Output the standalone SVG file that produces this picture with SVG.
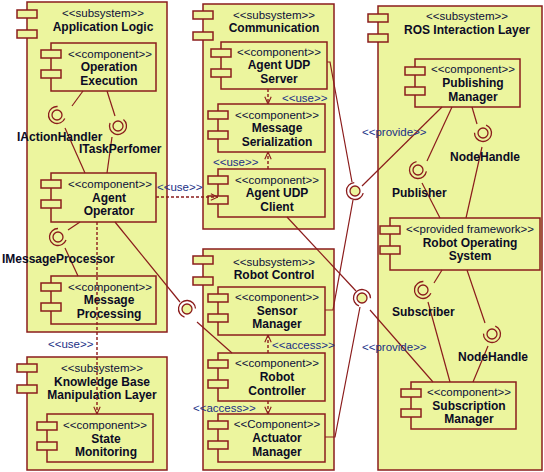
<svg xmlns="http://www.w3.org/2000/svg" width="544" height="472" viewBox="0 0 544 472">
<defs>
<style>
.box{fill:#ecf59e;stroke:#8b1c1c;stroke-width:1.5}
.ln{fill:none;stroke:#8b1c1c;stroke-width:1.2}
.dash{fill:none;stroke:#8b1c1c;stroke-width:1.4;stroke-dasharray:3,2}
.ball{fill:#ecf59e;stroke:#8b1c1c;stroke-width:1.3}
.sock{fill:none;stroke:#8b1c1c;stroke-width:1.3}
.st{font-family:"Liberation Sans",Arial,sans-serif;font-size:11.5px;fill:#0b0f3a;text-anchor:middle}
.nm{font-family:"Liberation Sans",Arial,sans-serif;font-size:12px;font-weight:bold;fill:#0b0b25;text-anchor:middle}
.lb{font-family:"Liberation Sans",Arial,sans-serif;font-size:12px;font-weight:bold;fill:#0b0b25}
.cl{font-family:"Liberation Sans",Arial,sans-serif;font-size:11.5px;fill:#1a2f86}
</style>
<marker id="v" viewBox="0 0 10 10" refX="10" refY="5" markerWidth="8" markerHeight="8" markerUnits="userSpaceOnUse" orient="auto">
<path d="M1,1 L10,5 L1,9" fill="none" stroke="#8b1c1c" stroke-width="1.4"/>
</marker>
</defs>
<rect width="544" height="472" fill="#ffffff"/>

<!-- Subsystems -->
<g id="application-logic">
<rect class="box" x="27" y="2" width="140" height="330"/>
<rect class="box" x="17" y="10" width="20" height="8"/>
<rect class="box" x="17" y="30" width="20" height="8"/>
<text class="st" x="103" y="17">&lt;&lt;subsystem&gt;&gt;</text>
<text class="nm" x="103" y="31">Application Logic</text>
</g>
<g id="knowledge-base">
<rect class="box" x="27" y="357" width="140" height="113"/>
<rect class="box" x="17" y="364" width="20" height="8"/>
<rect class="box" x="17" y="385" width="20" height="8"/>
<text class="st" x="102" y="372">&lt;&lt;subsystem&gt;&gt;</text>
<text class="nm" x="102" y="386">Knowledge Base</text>
<text class="nm" x="102" y="399">Manipulation Layer</text>
</g>
<g id="communication">
<rect class="box" x="203" y="4" width="131" height="225"/>
<rect class="box" x="193" y="11" width="20" height="8"/>
<rect class="box" x="193" y="32" width="20" height="8"/>
<text class="st" x="274" y="19">&lt;&lt;subsystem&gt;&gt;</text>
<text class="nm" x="274" y="32">Communication</text>
</g>
<g id="robot-control">
<rect class="box" x="203" y="249" width="131" height="221"/>
<rect class="box" x="193" y="256" width="20" height="8"/>
<rect class="box" x="193" y="277" width="20" height="8"/>
<text class="st" x="274" y="266">&lt;&lt;subsystem&gt;&gt;</text>
<text class="nm" x="274" y="279">Robot Control</text>
</g>
<g id="ros-interaction-layer">
<rect class="box" x="378" y="6" width="164" height="464"/>
<rect class="box" x="368" y="14" width="20" height="8"/>
<rect class="box" x="368" y="34" width="20" height="8"/>
<text class="st" x="467" y="20">&lt;&lt;subsystem&gt;&gt;</text>
<text class="nm" x="467" y="34">ROS Interaction Layer</text>
</g>

<!-- Components -->
<g id="operation-execution">
<rect class="box" x="51" y="43" width="105" height="48"/>
<rect class="box" x="41" y="50" width="20" height="8"/>
<rect class="box" x="41" y="70" width="20" height="8"/>
<text class="st" x="110" y="58">&lt;&lt;component&gt;&gt;</text>
<text class="nm" x="109" y="71">Operation</text>
<text class="nm" x="109" y="85">Execution</text>
</g>
<g id="agent-operator">
<rect class="box" x="51" y="173" width="105" height="49"/>
<rect class="box" x="41" y="180" width="20" height="8"/>
<rect class="box" x="41" y="200" width="20" height="8"/>
<text class="st" x="110" y="188">&lt;&lt;component&gt;&gt;</text>
<text class="nm" x="109" y="202">Agent</text>
<text class="nm" x="109" y="215">Operator</text>
</g>
<g id="message-processing">
<rect class="box" x="51" y="276" width="105" height="48"/>
<rect class="box" x="41" y="283" width="20" height="8"/>
<rect class="box" x="41" y="303" width="20" height="8"/>
<text class="st" x="110" y="291">&lt;&lt;component&gt;&gt;</text>
<text class="nm" x="109" y="304">Message</text>
<text class="nm" x="109" y="318">Processing</text>
</g>
<g id="state-monitoring">
<rect class="box" x="47" y="414" width="106" height="48"/>
<rect class="box" x="37" y="422" width="20" height="8"/>
<rect class="box" x="37" y="442" width="20" height="8"/>
<text class="st" x="105" y="429">&lt;&lt;component&gt;&gt;</text>
<text class="nm" x="106" y="443">State</text>
<text class="nm" x="106" y="456">Monitoring</text>
</g>
<g id="agent-udp-server">
<rect class="box" x="221" y="42" width="106" height="47"/>
<rect class="box" x="211" y="49" width="20" height="8"/>
<rect class="box" x="211" y="69" width="20" height="8"/>
<text class="st" x="279" y="56">&lt;&lt;component&gt;&gt;</text>
<text class="nm" x="279" y="69">Agent UDP</text>
<text class="nm" x="279" y="83">Server</text>
</g>
<g id="message-serialization">
<rect class="box" x="218" y="104" width="107" height="48"/>
<rect class="box" x="208" y="111" width="20" height="8"/>
<rect class="box" x="208" y="131" width="20" height="8"/>
<text class="st" x="277" y="119">&lt;&lt;component&gt;&gt;</text>
<text class="nm" x="277" y="132">Message</text>
<text class="nm" x="277" y="146">Serialization</text>
</g>
<g id="agent-udp-client">
<rect class="box" x="218" y="169" width="107" height="48"/>
<rect class="box" x="208" y="176" width="20" height="8"/>
<rect class="box" x="208" y="196" width="20" height="8"/>
<text class="st" x="277" y="184">&lt;&lt;component&gt;&gt;</text>
<text class="nm" x="277" y="197">Agent UDP</text>
<text class="nm" x="277" y="211">Client</text>
</g>
<g id="sensor-manager">
<rect class="box" x="218" y="287" width="107" height="48"/>
<rect class="box" x="208" y="294" width="20" height="8"/>
<rect class="box" x="208" y="314" width="20" height="8"/>
<text class="st" x="277" y="301">&lt;&lt;component&gt;&gt;</text>
<text class="nm" x="277" y="315">Sensor</text>
<text class="nm" x="277" y="328">Manager</text>
</g>
<g id="robot-controller">
<rect class="box" x="218" y="353" width="107" height="48"/>
<rect class="box" x="208" y="360" width="20" height="8"/>
<rect class="box" x="208" y="380" width="20" height="8"/>
<text class="st" x="277" y="367">&lt;&lt;component&gt;&gt;</text>
<text class="nm" x="277" y="381">Robot</text>
<text class="nm" x="277" y="395">Controller</text>
</g>
<g id="actuator-manager">
<rect class="box" x="218" y="414" width="107" height="48"/>
<rect class="box" x="208" y="421" width="20" height="8"/>
<rect class="box" x="208" y="441" width="20" height="8"/>
<text class="st" x="277" y="428">&lt;&lt;Component&gt;&gt;</text>
<text class="nm" x="277" y="442">Actuator</text>
<text class="nm" x="277" y="456">Manager</text>
</g>
<g id="publishing-manager">
<rect class="box" x="415" y="59" width="105" height="48"/>
<rect class="box" x="405" y="67" width="20" height="8"/>
<rect class="box" x="405" y="87" width="20" height="8"/>
<text class="st" x="473" y="73">&lt;&lt;component&gt;&gt;</text>
<text class="nm" x="473" y="87">Publishing</text>
<text class="nm" x="473" y="101">Manager</text>
</g>
<g id="robot-operating-system">
<rect class="box" x="390" y="218" width="150" height="52"/>
<rect class="box" x="380" y="226" width="20" height="8"/>
<rect class="box" x="380" y="246" width="20" height="8"/>
<text class="st" x="470" y="233">&lt;&lt;provided framework&gt;&gt;</text>
<text class="nm" x="470" y="247">Robot Operating</text>
<text class="nm" x="470" y="260">System</text>
</g>
<g id="subscription-manager">
<rect class="box" x="411" y="382" width="105" height="47"/>
<rect class="box" x="401" y="389" width="20" height="8"/>
<rect class="box" x="401" y="409" width="20" height="8"/>
<text class="st" x="469" y="396">&lt;&lt;component&gt;&gt;</text>
<text class="nm" x="469" y="410">Subscription</text>
<text class="nm" x="469" y="423">Manager</text>
</g>

<!-- Connectors -->
<g id="connectors">
<path class="ln" d="M83,91 L72,106"/>
<path class="ln" d="M65,128 L85,173"/>
<path class="ln" d="M107,91 L115,116"/>
<path class="ln" d="M112,137 L107,173"/>
<path class="ln" d="M80,222 L68,230"/>
<path class="ln" d="M65,248 L78,276"/>
<path class="ln" d="M115,222 L180,302"/>
<path class="ln" d="M197,322 L232,353"/>
<path class="ln" d="M327,62 L330,62 L352,182"/>
<path class="ln" d="M442,107 L362,186"/>
<path class="ln" d="M353,200 L333,310 L325,310"/>
<path class="ln" d="M287,217 L356,291"/>
<path class="ln" d="M370,310 L433,382"/>
<path class="ln" d="M360,307 L335,437 L325,437"/>
<path class="ln" d="M452,107 L427,161"/>
<path class="ln" d="M422,183 L440,218"/>
<path class="ln" d="M472,107 L477,124"/>
<path class="ln" d="M482,147 L466,218"/>
<path class="ln" d="M442,270 L434,283"/>
<path class="ln" d="M428,302 L450,382"/>
<path class="ln" d="M467,270 L485,323"/>
<path class="ln" d="M488,346 L473,382"/>
<path class="dash" d="M97,222 L97,414" marker-end="url(#v)"/>
<path class="dash" d="M156,197 L218,197" marker-end="url(#v)" stroke-width="2"/>
<path class="dash" d="M268,89 L268,104" marker-end="url(#v)"/>
<path class="dash" d="M268,169 L268,152" marker-end="url(#v)"/>
<path class="dash" d="M268,353 L268,335" marker-end="url(#v)"/>
<path class="dash" d="M268,401 L268,414" marker-end="url(#v)"/>
<text class="cl" x="48" y="348">&lt;&lt;use&gt;&gt;</text>
<text class="cl" x="157" y="191">&lt;&lt;use&gt;&gt;</text>
<text class="cl" x="282" y="102">&lt;&lt;use&gt;&gt;</text>
<text class="cl" x="213" y="166">&lt;&lt;use&gt;&gt;</text>
<text class="cl" x="272" y="349">&lt;&lt;access&gt;&gt;</text>
<text class="cl" x="193" y="412">&lt;&lt;access&gt;&gt;</text>
<text class="cl" x="362" y="136">&lt;&lt;provide&gt;&gt;</text>
<text class="cl" x="362" y="351">&lt;&lt;provide&gt;&gt;</text>
</g>

<!-- Interfaces (ball and socket) -->
<g id="iactionhandler">
<circle class="ball" cx="57" cy="115" r="5"/>
<path class="sock" d="M64.77,118.46 A8.5,8.5 0 1 1 57.59,106.52"/>
<text class="lb" x="17" y="141">IActionHandler</text>
</g>
<g id="itaskperfomer">
<circle class="ball" cx="118" cy="126" r="5"/>
<path class="sock" d="M123.46,119.49 A8.5,8.5 0 1 1 110.01,123.09"/>
<text class="lb" x="79" y="153">ITaskPerfomer</text>
</g>
<g id="imessageprocessor">
<circle class="ball" cx="58" cy="237" r="5"/>
<path class="sock" d="M65.99,239.91 A8.5,8.5 0 1 1 58,228.5"/>
<text class="lb" x="2" y="263">IMessageProcessor</text>
</g>
<g id="robot-controller-interface">
<circle class="ball" cx="187" cy="309" r="5"/>
<path class="sock" d="M184.51,317.13 A8.5,8.5 0 1 1 195.49,308.56"/>
</g>
<g id="publish-interface">
<circle class="ball" cx="355" cy="191" r="5"/>
<path class="sock" d="M363.21,193.2 A8.5,8.5 0 1 1 354.26,182.53"/>
</g>
<g id="subscribe-interface">
<circle class="ball" cx="362" cy="298" r="5"/>
<path class="sock" d="M358.95,305.94 A8.5,8.5 0 1 1 370.5,298.15"/>
</g>
<g id="publisher">
<circle class="ball" cx="418" cy="170" r="5"/>
<path class="sock" d="M426.37,171.48 A8.5,8.5 0 1 1 416.52,161.63"/>
<text class="lb" x="392" y="197">Publisher</text>
</g>
<g id="nodehandle-top">
<circle class="ball" cx="483" cy="133" r="5"/>
<path class="sock" d="M486.09,125.08 A8.5,8.5 0 1 1 474.5,132.81"/>
<text class="lb" x="450" y="161">NodeHandle</text>
</g>
<g id="subscriber">
<circle class="ball" cx="423" cy="290" r="5"/>
<path class="sock" d="M430.85,293.25 A8.5,8.5 0 1 1 423.37,281.51"/>
<text class="lb" x="392" y="316">Subscriber</text>
</g>
<g id="nodehandle-bottom">
<circle class="ball" cx="492" cy="334" r="5"/>
<path class="sock" d="M495.25,326.15 A8.5,8.5 0 1 1 483.51,333.63"/>
<text class="lb" x="458" y="361">NodeHandle</text>
</g>
</svg>
